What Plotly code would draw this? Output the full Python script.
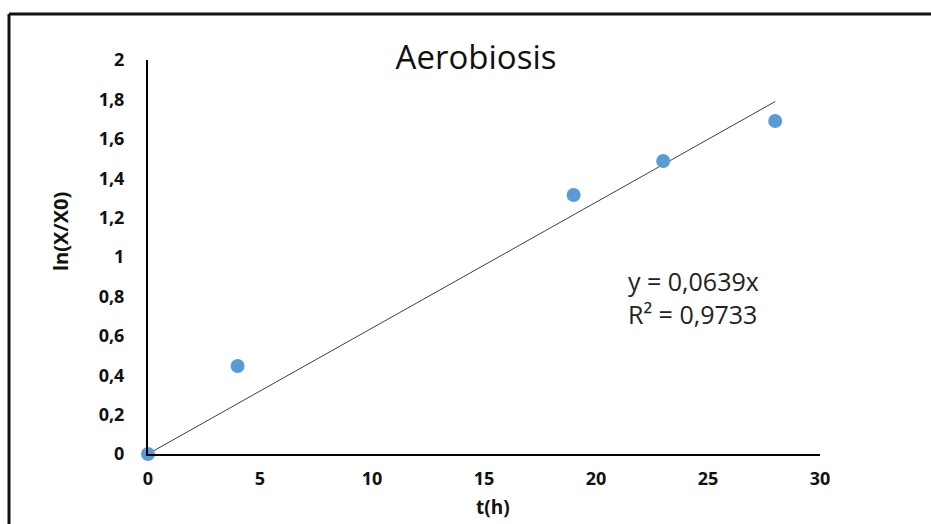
import plotly.graph_objects as go

# Measured growth: time (h) vs ln(X/X0)
t_hours = [0, 4, 19, 23, 28]
ln_ratio = [0.0, 0.447, 1.315, 1.487, 1.69]

# Linear trend forced through the origin
slope = 0.0639
r_squared = 0.9733
trend_x = [0, 28]
trend_y = [slope * x for x in trend_x]

x_ticks = [0, 5, 10, 15, 20, 25, 30]
y_ticks = [0, 0.2, 0.4, 0.6, 0.8, 1, 1.2, 1.4, 1.6, 1.8, 2]
y_tick_text = ["0", "0,2", "0,4", "0,6", "0,8", "1", "1,2", "1,4", "1,6", "1,8", "2"]

W, H = 931, 524
L, R, T, B = 148, 111, 60, 70
pw, ph = W - L - R, H - T - B


def px_x(p):
    return (p - L) / pw


def px_y(p):
    return (H - B - p) / ph


fig = go.Figure()
fig.add_trace(go.Scatter(
    x=trend_x, y=trend_y, mode="lines",
    line=dict(color="#3f3f3f", width=1),
    hoverinfo="skip", showlegend=False,
))
fig.add_trace(go.Scatter(
    x=t_hours, y=ln_ratio, mode="markers",
    marker=dict(color="#5B9BD5", size=14),
    cliponaxis=False, showlegend=False,
))

fig.add_annotation(
    x=px_x(626), y=px_y(297), xref="paper", yref="paper",
    xanchor="left", yanchor="middle", showarrow=False, align="left",
    text=f"y = {slope:.4f}x".replace(".", ",") + "<br>" +
         f"R² = {r_squared:.4f}".replace(".", ","),
    font=dict(family="Open Sans", size=25, color="#222"),
)

# Axis titles
axis_title_font = dict(family="Open Sans", size=19, color="#111")
fig.add_annotation(
    x=px_x(493), y=px_y(507), xref="paper", yref="paper",
    xanchor="center", yanchor="middle", showarrow=False,
    text="<b>t(h)</b>", font=axis_title_font,
)
fig.add_annotation(
    x=px_x(60), y=px_y(232), xref="paper", yref="paper",
    xanchor="center", yanchor="middle", showarrow=False, textangle=-90,
    text="<b>ln(X/X0)</b>", font=dict(family="Open Sans", size=20, color="#111"),
)

# Outer frame of the chart
frame = dict(color="#111", width=3)
fig.add_shape(type="line", xref="paper", yref="paper",
              x0=px_x(9), x1=px_x(935), y0=px_y(14), y1=px_y(14), line=frame)
fig.add_shape(type="line", xref="paper", yref="paper",
              x0=px_x(9), x1=px_x(9), y0=px_y(14), y1=px_y(530), line=frame)

fig.update_layout(
    width=W, height=H,
    margin=dict(l=L, r=R, t=T, b=B),
    paper_bgcolor="white", plot_bgcolor="white",
    title=dict(text="Aerobiosis", x=476 / W, xanchor="center",
               y=1 - 57 / H, yanchor="middle",
               font=dict(family="Open Sans", size=33, color="#111")),
    xaxis=dict(
        range=[0, 30], tickvals=x_ticks, ticktext=[str(v) for v in x_ticks],
        showgrid=False, zeroline=False, showline=True, linecolor="black",
        linewidth=2, ticks="", ticklabelstandoff=7,
        tickfont=dict(family="Open Sans", size=18, color="#111", weight="bold"),
    ),
    yaxis=dict(
        range=[0, 2], tickvals=y_ticks, ticktext=y_tick_text,
        showgrid=False, zeroline=False, showline=True, linecolor="black",
        linewidth=2, ticks="", ticklabelstandoff=18,
        tickfont=dict(family="Open Sans", size=18, color="#111", weight="bold"),
    ),
)

fig.write_html("out.html")
